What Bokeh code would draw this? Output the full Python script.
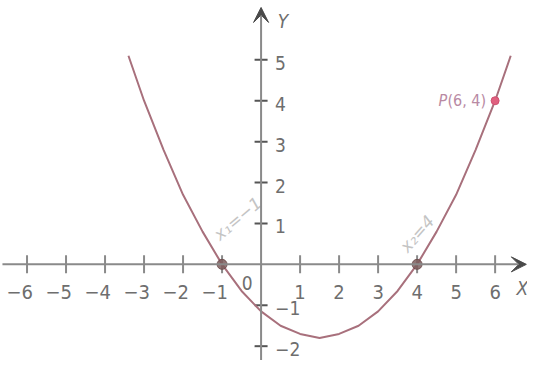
from bokeh.plotting import figure
from bokeh.models import Range1d, Arrow, VeeHead
from bokeh.core.properties import value
from bokeh.embed import file_html
from bokeh.resources import INLINE

# ---- data ----
curve_x = [-3.4, -3.0, -2.5, -2.0, -1.5, -1.0, -0.5, 0.0, 0.5, 1.0, 1.5,
           2.0, 2.5, 3.0, 3.5, 4.0, 4.5, 5.0, 5.5, 6.0, 6.4]
curve_y = [5.1, 4.0, 2.8, 1.7, 0.8, 0.0, -0.65, -1.15, -1.5, -1.7, -1.8,
           -1.7, -1.5, -1.15, -0.65, 0.0, 0.8, 1.7, 2.8, 4.0, 5.1]
root_x = [-1, 4]
root_y = [0, 0]
point_x = [6]
point_y = [4]
point_label = "(6, 4)"
x_ticks_neg = [-6, -5, -4, -3, -2, -1]
x_ticks_pos = [1, 2, 3, 4, 5, 6]
y_ticks = [-2, -1, 1, 2, 3, 4, 5]
notes = ["x\u2081=\u22121", "x\u2082=4"]
note_x = [-0.6, 4.0]
note_y = [1.12, 0.75]

X_MIN, X_MAX = -6.68, 6.83
Y_MIN, Y_MAX = -2.35, 6.45
AXIS_X_START, AXIS_X_END = -6.63, 6.8
AXIS_Y_START, AXIS_Y_END = -2.35, 6.28

FONT = value("DejaVu Sans Condensed")
AX = "#8a8a8a"
TXT = "#6e6e6e"

p = figure(width=527, height=360, x_range=Range1d(X_MIN, X_MAX),
           y_range=Range1d(Y_MIN, Y_MAX), output_backend="svg",
           toolbar_location=None, x_axis_type=None, y_axis_type=None,
           min_border=0, outline_line_color=None)
p.xgrid.visible = False
p.ygrid.visible = False
p.background_fill_color = "white"

# axes with arrows
p.add_layout(Arrow(end=VeeHead(size=15, fill_color="#4a4a4a", line_color="#4a4a4a"),
                   x_start=AXIS_X_START, y_start=0, x_end=AXIS_X_END, y_end=0,
                   line_color=AX, line_width=2))
p.add_layout(Arrow(end=VeeHead(size=15, fill_color="#4a4a4a", line_color="#4a4a4a"),
                   x_start=0, y_start=AXIS_Y_START, x_end=0, y_end=AXIS_Y_END,
                   line_color=AX, line_width=2))

# ticks
all_x_ticks = x_ticks_neg + x_ticks_pos
p.scatter(all_x_ticks, [0] * len(all_x_ticks), marker="dash", size=18,
          angle=1.5708, line_color=AX, line_width=2)
p.scatter([0] * len(y_ticks), y_ticks, marker="dash", size=13,
          line_color="#555555", line_width=2)

# tick labels
p.text(x_ticks_neg, [0] * len(x_ticks_neg), text=[f"\u2212{abs(v)}" for v in x_ticks_neg],
       text_font=FONT, text_font_size="20px", text_color=TXT,
       text_align="right", text_baseline="middle", x_offset=6, y_offset=28)
p.text(x_ticks_pos, [0] * len(x_ticks_pos), text=[str(v) for v in x_ticks_pos],
       text_font=FONT, text_font_size="20px", text_color=TXT,
       text_align="center", text_baseline="middle", y_offset=28)
p.text([0] * len(y_ticks), y_ticks,
       text=[(f"\u2212{abs(v)}" if v < 0 else str(v)) for v in y_ticks],
       text_font=FONT, text_font_size="19px", text_color=TXT,
       text_align="left", text_baseline="middle", x_offset=14, y_offset=3)
p.text([0], [0], text=["0"], text_font=FONT, text_font_size="19px", text_color=TXT,
       text_align="center", text_baseline="middle", x_offset=-14, y_offset=19)

# axis names
p.text([AXIS_X_END], [0], text=["X"], text_font=FONT, text_font_style="italic",
       text_font_size="19px", text_color=TXT, text_align="center",
       text_baseline="middle", x_offset=-4, y_offset=24)
p.text([0], [AXIS_Y_END], text=["Y"], text_font=FONT, text_font_style="italic",
       text_font_size="19px", text_color=TXT, text_align="center",
       text_baseline="middle", x_offset=22, y_offset=14)

# handwritten notes
p.text(note_x, note_y, text=notes, text_font=value("DejaVu Sans"),
       text_font_style="italic", text_font_size="17px", text_color="#c4c4c4",
       angle=[0.7, 0.85], text_align="center", text_baseline="middle")

# curve
p.line(curve_x, curve_y, line_color="#a8707c", line_width=2)

# points
p.scatter(root_x, root_y, size=10, fill_color="#7d5c5c", line_color="#6a4a4a", alpha=0.85)
p.scatter(point_x, point_y, size=8, fill_color="#e0607f", line_color="#d05070")
p.text(point_x, point_y, text=[point_label], text_font=FONT, text_font_size="16px",
       text_color="#b98aa3", text_align="right", text_baseline="middle", x_offset=-9)
p.text(point_x, point_y, text=["P"], text_font=FONT, text_font_style="italic",
       text_font_size="16px", text_color="#b98aa3", text_align="right",
       text_baseline="middle", x_offset=-48)

open("out.html", "w").write(file_html(p, INLINE))
